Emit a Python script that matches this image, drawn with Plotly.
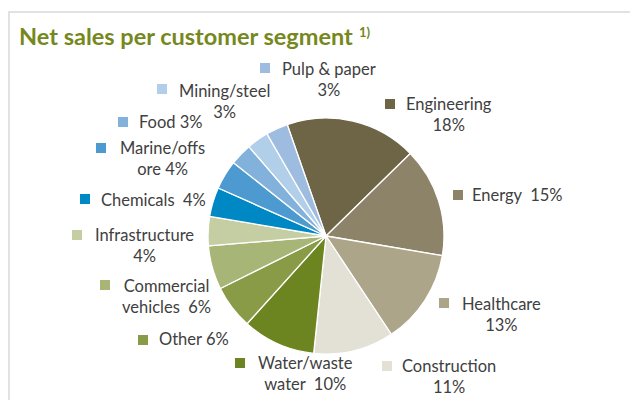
import plotly.graph_objects as go

W, H = 638, 400
OFF = 8  # page body margin of the HTML output

segments = ["Engineering", "Energy", "Healthcare", "Construction", "Water/waste water",
            "Other", "Commercial vehicles", "Infrastructure", "Chemicals",
            "Marine/offshore", "Food", "Mining/steel", "Pulp & paper"]
shares = [18, 15, 13, 11, 10, 6, 6, 4, 4, 4, 3, 3, 3]
colors = ["#6E6446", "#8C8368", "#ADA58A", "#E3E0D6", "#6D8520",
          "#8A9B48", "#A7B577", "#C5CEA2", "#0088C4",
          "#4D9AD0", "#82B2DC", "#B2CFEA", "#9EBCDF"]
# label text as displayed (with Excel-style line wraps)
label_texts = ["Engineering<br>18%", "Energy  15%", "Healthcare<br>13%", "Construction<br>11%",
               "Water/waste<br>water  10%", "Other 6%", "Commercial<br>vehicles  6%",
               "Infrastructure<br>4%", "Chemicals  4%", "Marine/offs<br>ore 4%",
               "Food 3%", "Mining/steel<br>3%", "Pulp & paper<br>3%"]

# layout positions (pixels): text centre (x, y) and legend-key square top-left
text_pos = [(449, 114), (518, 195), (501, 314), (449, 376), (305, 373),
            (194, 339), (166, 296), (144, 245), (153, 200), (162, 159),
            (171, 122), (224, 101), (329, 79)]
key_pos = [(385, 99), (453, 190), (439, 298), (382, 361), (235, 358),
           (138, 335), (100, 280), (72, 230), (80, 194), (96, 143),
           (118, 117), (157, 84), (260, 63)]

def px(x):
    return (x - OFF) / W

def py(y):
    return 1 - (y - OFF) / H

cx, cy, r = 326, 236, 118

fig = go.Figure(go.Pie(
    labels=segments, values=shares, sort=False, direction="clockwise",
    rotation=-19.2, textinfo="none", hoverinfo="label+percent",
    marker=dict(colors=colors, line=dict(color="white", width=1.3)),
    domain=dict(x=[px(cx - r), px(cx + r)], y=[py(cy + r), py(cy - r)]),
    showlegend=False,
))

annotations = []
shapes = []
for t, (tx, ty), (kx, ky), c in zip(label_texts, text_pos, key_pos, colors):
    annotations.append(dict(x=px(tx), y=py(ty), xref="paper", yref="paper",
                            text=t, showarrow=False, xanchor="center", yanchor="middle",
                            align="center",
                            font=dict(family="Lato", size=16.5, color="#404040")))
    shapes.append(dict(type="rect", xref="paper", yref="paper",
                       x0=px(kx), x1=px(kx + 10), y0=py(ky + 10), y1=py(ky),
                       fillcolor=c, line=dict(width=0)))

# title
annotations.append(dict(x=px(17), y=py(36), xref="paper", yref="paper",
                        text="<b>Net sales per customer segment</b>", showarrow=False,
                        xanchor="left", yanchor="middle",
                        font=dict(family="Lato", size=23.5, color="#76881D")))
annotations.append(dict(x=px(357), y=py(32), xref="paper", yref="paper",
                        text="<b>1)</b>", showarrow=False,
                        xanchor="left", yanchor="middle",
                        font=dict(family="Lato", size=13, color="#76881D")))

# chart frame (top and left edges visible)
shapes.append(dict(type="path", xref="paper", yref="paper",
                   path=f"M {px(9)},{py(420)} L {px(9)},{py(12)} L {px(660)},{py(12)}",
                   line=dict(color="#E2E2E2", width=2)))

fig.update_layout(width=W, height=H, margin=dict(l=0, r=0, t=0, b=0),
                  paper_bgcolor="white", plot_bgcolor="white",
                  annotations=annotations, shapes=shapes)

fig.write_html("out.html")
